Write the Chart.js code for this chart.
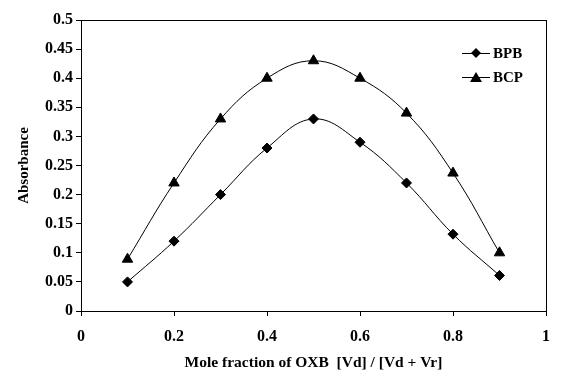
<!DOCTYPE html>
<html>
<head>
<meta charset="utf-8">
<script src="https://cdn.jsdelivr.net/npm/chart.js@4"></script>
<style>
  html, body { margin: 0; padding: 0; background: #fff; }
  #wrap { width: 567px; height: 389px; }
</style>
</head>
<body>
<div id="wrap"><canvas id="jobPlot" width="567" height="389"></canvas></div>
<script>
// mole fraction vs absorbance (Job's method)
const moleFraction = [0.1, 0.2, 0.3, 0.4, 0.5, 0.6, 0.7, 0.8, 0.9];
const bpbValues = [0.05, 0.12, 0.20, 0.28, 0.33, 0.29, 0.22, 0.132, 0.061];
const bcpValues = [0.089, 0.22, 0.33, 0.40, 0.43, 0.40, 0.34, 0.237, 0.10];
const seriesNames = ['BPB', 'BCP'];
const xTicks = [0, 0.2, 0.4, 0.6, 0.8, 1];
const yTicks = [0, 0.05, 0.1, 0.15, 0.2, 0.25, 0.3, 0.35, 0.4, 0.45, 0.5];

const serif = "'Liberation Serif', 'Times New Roman', serif";

function toPoints(vals) {
    return moleFraction.map((x, i) => ({ x: x, y: vals[i] }));
}

// box around the plot + legend inside the top right
const framePlugin = {
    id: 'frame',
    afterDraw(chart) {
        const { ctx, chartArea: a } = chart;
        ctx.save();
        ctx.strokeStyle = '#000';
        ctx.lineWidth = 1;
        ctx.strokeRect(a.left + 0.5, a.top + 0.5, a.right - a.left, a.bottom - a.top);

        ctx.font = 'bold 15px ' + serif;
        ctx.textBaseline = 'middle';
        chart.data.datasets.forEach((ds, i) => {
            const y = 53 + i * 24;
            const x0 = 462;
            ctx.beginPath();
            ctx.moveTo(x0, y + 0.5);
            ctx.lineTo(x0 + 28, y + 0.5);
            ctx.lineWidth = 1;
            ctx.stroke();
            ctx.fillStyle = '#000';
            ctx.beginPath();
            if (ds.pointStyle === 'triangle') {
                ctx.moveTo(x0 + 14, y - 5);
                ctx.lineTo(x0 + 20, y + 5);
                ctx.lineTo(x0 + 8, y + 5);
            } else {
                ctx.moveTo(x0 + 14, y - 5);
                ctx.lineTo(x0 + 19, y);
                ctx.lineTo(x0 + 14, y + 5);
                ctx.lineTo(x0 + 9, y);
            }
            ctx.closePath();
            ctx.fill();
            ctx.fillText(ds.label, x0 + 31, y + 1);
        });
        ctx.restore();
    }
};

const ctx = document.getElementById('jobPlot').getContext('2d');
new Chart(ctx, {
    type: 'line',
    data: {
        datasets: [{
            label: seriesNames[0],
            data: toPoints(bpbValues),
            borderColor: '#000',
            backgroundColor: '#000',
            borderWidth: 1,
            pointStyle: 'rectRot',
            pointRadius: 5,
            tension: 0.4
        }, {
            label: seriesNames[1],
            data: toPoints(bcpValues),
            borderColor: '#000',
            backgroundColor: '#000',
            borderWidth: 1,
            pointStyle: 'triangle',
            pointRadius: 6,
            tension: 0.4
        }]
    },
    options: {
        responsive: false,
        animation: false,
        devicePixelRatio: 1,
        layout: { padding: { left: 0, right: 21, top: 20, bottom: 0 } },
        plugins: {
            legend: { display: false },
            tooltip: { enabled: false }
        },
        scales: {
            x: {
                type: 'linear',
                min: 0,
                max: 1,
                afterBuildTicks: s => { s.ticks = xTicks.map(v => ({ value: v })); },
                afterFit: s => { s.height = 78; },
                grid: { drawOnChartArea: false, tickLength: 5, color: '#000' },
                border: { color: '#000' },
                ticks: {
                    color: '#000',
                    font: { family: serif, weight: 'bold', size: 16 },
                    padding: 11,
                    maxRotation: 0,
                    callback: v => String(v)
                },
                title: {
                    display: true,
                    text: 'Mole fraction of OXB  [Vd] / [Vd + Vr]',
                    color: '#000',
                    font: { family: serif, weight: 'bold', size: 15.5 },
                    padding: { top: 0, bottom: 17 }
                }
            },
            y: {
                min: 0,
                max: 0.5,
                afterBuildTicks: s => { s.ticks = yTicks.map(v => ({ value: v })); },
                afterFit: s => { s.width = 81; },
                grid: { drawOnChartArea: false, tickLength: 5, color: '#000' },
                border: { color: '#000' },
                ticks: {
                    color: '#000',
                    font: { family: serif, weight: 'bold', size: 16 },
                    padding: 3,
                    callback: v => String(v)
                },
                title: {
                    display: true,
                    text: 'Absorbance',
                    color: '#000',
                    font: { family: serif, weight: 'bold', size: 15 },
                    padding: { top: 15, bottom: 0 }
                }
            }
        }
    },
    plugins: [framePlugin]
});
</script>
</body>
</html>
